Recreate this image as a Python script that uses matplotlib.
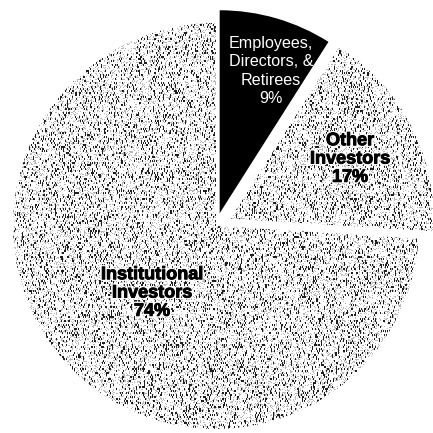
import numpy as np
import matplotlib
matplotlib.use("Agg")
import matplotlib.pyplot as plt
import matplotlib.patheffects as pe

# Data
categories = ["Employees, Directors, & Retirees", "Other Investors", "Institutional Investors"]
shares = [9, 17, 74]
label_lines = ["Employees,\nDirectors, &\nRetirees\n9%",
               "Other\nInvestors\n17%",
               "Institutional\nInvestors\n74%"]

explode = [0.065, 0.08, 0.0]

fig = plt.figure(figsize=(4.33, 4.33), dpi=100)
ax = fig.add_axes([0, 0, 1, 1])
wedges, _ = ax.pie(shares, explode=explode, startangle=90, counterclock=False,
                   colors=["black", "white", "white"], radius=1.0,
                   wedgeprops=dict(linewidth=0))

# speckle texture for the stippled slices (styling only)
rng = np.random.default_rng(7)
base = rng.random((217, 433))
tex = np.repeat(base, 2, axis=0)[:433]
tex2 = rng.random((433, 433))
img = np.ones_like(tex)
img[tex2 < 0.2] = 0.72
img[tex < 0.14] = 0.12
xl = (-1.064, 1.069)
yl = (-1.020, 1.113)
for w in wedges[1:]:
    im = ax.imshow(img, cmap="gray", vmin=0, vmax=1, extent=(xl[0], xl[1], yl[0], yl[1]),
                   interpolation="nearest", zorder=2, aspect="auto")
    im.set_clip_path(w)

ax.set_xlim(*xl)
ax.set_ylim(*yl)
ax.axis("off")

def px(x, y):
    return ax.transData.inverted().transform(fig.transFigure.transform((x / 433, 1 - y / 433)))

bold_fx = [pe.Stroke(linewidth=2.5, foreground="white"),
           pe.Stroke(linewidth=0.7, foreground="black"), pe.Normal()]

x, y = px(271, 71)
ax.text(x, y, label_lines[0], color="white", fontsize=11.6, family="Liberation Sans",
        ha="center", va="center", linespacing=1.28, zorder=5)
x, y = px(350, 159)
ax.text(x, y, label_lines[1], color="black", fontsize=13, family="Liberation Sans",
        fontweight="bold", ha="center", va="center", linespacing=1.1, zorder=5,
        path_effects=bold_fx)
x, y = px(152, 293)
ax.text(x, y, label_lines[2], color="black", fontsize=13, family="Liberation Sans",
        fontweight="bold", ha="center", va="center", linespacing=1.1, zorder=5,
        path_effects=bold_fx)

fig.savefig("out.png", dpi=100, facecolor="white")
